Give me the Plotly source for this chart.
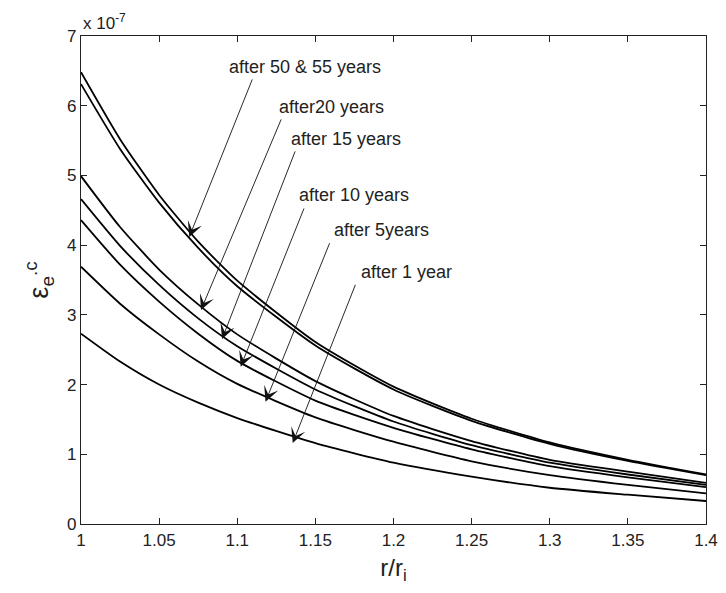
import plotly.graph_objects as go

# r / r_i sample positions
r_ratio = [1.00, 1.025, 1.05, 1.075, 1.10, 1.15, 1.20, 1.25, 1.30, 1.35, 1.40]

# equivalent creep strain rate (x 1e-7)
after_55y = [6.48, 5.52, 4.72, 4.05, 3.49, 2.61, 1.97, 1.51, 1.17, 0.92, 0.71]
after_50y = [6.31, 5.38, 4.61, 3.96, 3.41, 2.56, 1.93, 1.48, 1.15, 0.905, 0.70]
after_20y = [4.99, 4.26, 3.65, 3.15, 2.72, 2.05, 1.55, 1.19, 0.92, 0.75, 0.59]
after_15y = [4.66, 3.99, 3.43, 2.95, 2.55, 1.93, 1.47, 1.13, 0.88, 0.71, 0.56]
after_10y = [4.36, 3.72, 3.19, 2.73, 2.34, 1.77, 1.38, 1.07, 0.83, 0.67, 0.53]
after_5y = [3.69, 3.16, 2.72, 2.33, 2.01, 1.53, 1.18, 0.90, 0.70, 0.56, 0.44]
after_1y = [2.73, 2.33, 2.00, 1.74, 1.52, 1.16, 0.88, 0.68, 0.52, 0.42, 0.33]

series = [after_55y, after_50y, after_20y, after_15y, after_10y, after_5y, after_1y]
names = ["55 years", "50 years", "20 years", "15 years", "10 years", "5 years", "1 year"]

x_ticks = [1.0, 1.05, 1.1, 1.15, 1.2, 1.25, 1.3, 1.35, 1.4]
x_tick_labels = ["1", "1.05", "1.1", "1.15", "1.2", "1.25", "1.3", "1.35", "1.4"]
y_ticks = [0, 1, 2, 3, 4, 5, 6, 7]

# callouts: label, label centre, arrow tail, arrow tip (data coords)
labels = ["after 50 & 55 years", "after20 years", "after 15 years",
          "after 10 years", "after 5years", "after 1 year"]
label_xy = [(1.1431, 6.557), (1.1603, 5.983), (1.1695, 5.524),
            (1.1749, 4.720), (1.1924, 4.218), (1.2086, 3.616)]
tail_xy = [(1.110, 6.399), (1.1285, 5.825), (1.1374, 5.366),
           (1.1431, 4.548), (1.1595, 4.050), (1.176, 3.453)]
tip_xy = [(1.0693, 4.118), (1.0768, 3.070), (1.0903, 2.654),
          (1.1022, 2.257), (1.1181, 1.755), (1.1355, 1.162)]

FONT = "Liberation Sans, Arial, Helvetica, sans-serif"

fig = go.Figure()
for ys, nm in zip(series, names):
    fig.add_trace(go.Scatter(x=r_ratio, y=ys, mode="lines", name=nm,
                             line=dict(color="black", width=1.8, shape="spline", smoothing=0.6),
                             showlegend=False))

annotations = []
for txt, (lx, ly) in zip(labels, label_xy):
    annotations.append(dict(x=lx, y=ly, xref="x", yref="y", text=txt, showarrow=False,
                            font=dict(family=FONT, size=18, color="#222")))
for (tx, ty), (hx, hy) in zip(tail_xy, tip_xy):
    annotations.append(dict(x=hx, y=hy, ax=tx, ay=ty, xref="x", yref="y",
                            axref="x", ayref="y", text="", showarrow=True,
                            arrowhead=3, arrowsize=2.8, arrowwidth=0.9, arrowcolor="#111"))
annotations.append(dict(x=0.0, y=1.0, xref="paper", yref="paper", xanchor="left", yanchor="bottom",
                        yshift=1, text="x 10<sup>-7</sup>", showarrow=False,
                        font=dict(family=FONT, size=17, color="#222")))

fig.update_layout(
    width=710, height=577,
    margin=dict(l=73, r=12, t=28, b=61),
    paper_bgcolor="white", plot_bgcolor="white",
    font=dict(family=FONT, size=17, color="#222"),
    annotations=annotations,
    xaxis=dict(range=[1.0, 1.4], tickvals=x_ticks, ticktext=x_tick_labels,
               ticks="inside", ticklen=6, tickcolor="#222", showgrid=False, zeroline=False,
               showline=True, linecolor="#222", linewidth=1.2, mirror="ticks",
               automargin=False,
               title=dict(text="r/r<sub>i</sub>", font=dict(size=24), standoff=13),
               tickfont=dict(size=17)),
    yaxis=dict(range=[0, 7], tickvals=y_ticks,
               ticks="inside", ticklen=6, tickcolor="#222", showgrid=False, zeroline=False,
               showline=True, linecolor="#222", linewidth=1.2, mirror="ticks",
               automargin=False,
               title=dict(text="ε<sub>e</sub><sup>.c</sup>", font=dict(size=27), standoff=10),
               tickfont=dict(size=17)),
)

fig.write_html("out.html")
